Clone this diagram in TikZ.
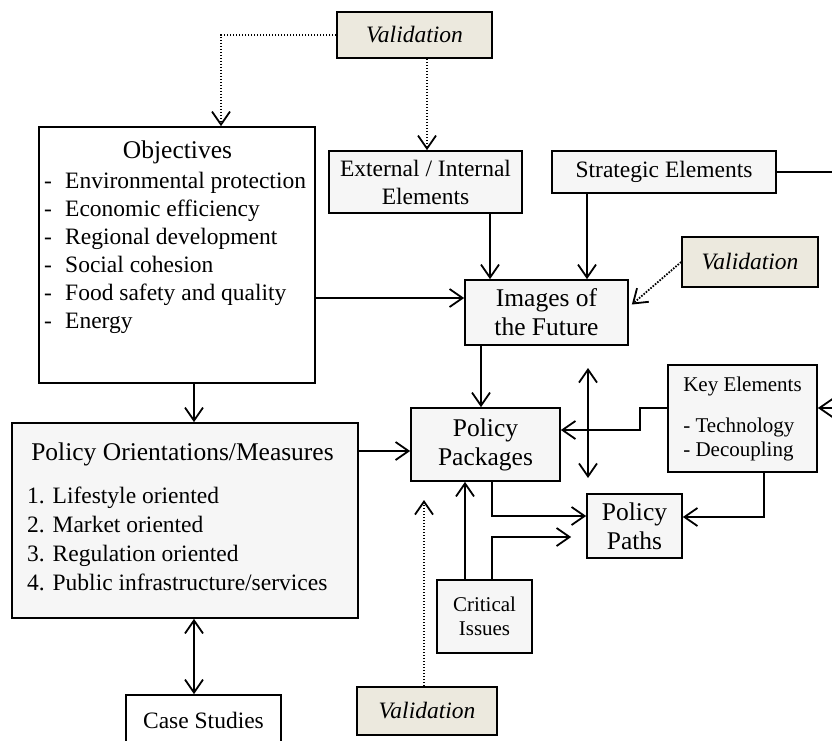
\documentclass[tikz,border=0pt]{standalone}
\usepackage{fontspec}
\setmainfont{Liberation Serif}
\usetikzlibrary{positioning, arrows.meta, calc}

\definecolor{boxgray}{HTML}{F6F6F6}
\definecolor{valbeige}{HTML}{ECE9DE}

\begin{document}
\begin{tikzpicture}[
x=1pt, y=-1pt,
    box/.style={draw, rectangle, line width=1.7pt, fill=boxgray, align=center, inner sep=0pt, font=\fontsize{23.5}{28}\selectfont},
    bigbox/.style={box, font=\fontsize{25.5}{29}\selectfont},
    smallbox/.style={box, font=\fontsize{21}{24}\selectfont},
    valid/.style={box, fill=valbeige, font=\fontsize{23.5}{28}\selectfont\itshape},
    txt/.style={inner sep=0pt, align=left, font=\fontsize{23.5}{28}\selectfont},
    title/.style={inner sep=0pt, font=\fontsize{25.5}{29}\selectfont},
    line/.style={draw, line width=1.8pt},
    arr/.style={line, -{Straight Barb[length=13pt,width=18pt]}},
    dblarr/.style={line, {Straight Barb[length=13pt,width=18pt]}-{Straight Barb[length=13pt,width=18pt]}},
    dotarr/.style={arr, dash pattern=on 1.6pt off 1.4pt}
]
    \useasboundingbox (0,0) rectangle (832,740);

    % --- Validation boxes ---
    \node[valid, minimum width=155pt, minimum height=46pt] (valtop) at (414.5,35) {Validation};
    \node[valid, minimum width=136pt, minimum height=50pt] (valright) at (750,262) {Validation};
    \node[valid, minimum width=140pt, minimum height=48pt] (valbot) at (427,711) {Validation};

    % --- Objectives ---
    \node[box, fill=white, minimum width=276pt, minimum height=256pt] (obj) at (177,255) {};
    \node[title, anchor=base] (objtitle) at (177.5,158) {Objectives};
    \node[txt, anchor=north west] (objlist) at (44,172) {%
        \makebox[21pt][l]{-}Environmental protection\\
        \makebox[21pt][l]{-}Economic efficiency\\
        \makebox[21pt][l]{-}Regional development\\
        \makebox[21pt][l]{-}Social cohesion\\
        \makebox[21pt][l]{-}Food safety and quality\\
        \makebox[21pt][l]{-}Energy};

    % --- Elements feeding the images ---
    \node[box, minimum width=193pt, minimum height=62pt] (ext) at (425.5,182) {External / Internal\\Elements};
    \node[box, minimum width=224pt, minimum height=42pt] (strat) at (664,172) {Strategic Elements};
    \node[bigbox, minimum width=163pt, minimum height=65pt] (img) at (546.5,312.5) {Images of\\the Future};

    % --- Policy side ---
    \node[smallbox, align=left, minimum width=149pt, minimum height=107pt] (key) at (742.5,418.5) {Key Elements\\[17pt]- Technology\\- Decoupling};
    \node[bigbox, minimum width=149pt, minimum height=73pt] (pack) at (485.5,444.5) {Policy\\Packages};
    \node[bigbox, minimum width=95pt, minimum height=64pt] (paths) at (634.5,526) {Policy\\Paths};
    \node[smallbox, minimum width=95pt, minimum height=73pt] (crit) at (484.5,616.5) {Critical\\Issues};

    % --- Policy Orientations/Measures ---
    \node[box, minimum width=346pt, minimum height=195pt] (po) at (185,520.5) {};
    \node[title, anchor=base] (potitle) at (182.5,460) {Policy Orientations/Measures};
    \node[txt, anchor=north west, font=\fontsize{23.5}{29.2}\selectfont] (polist) at (27,486.5) {%
        1. Lifestyle oriented\\
        2. Market oriented\\
        3. Regulation oriented\\
        4. Public infrastructure/services};

    \node[box, fill=white, minimum width=155pt, minimum height=50pt] (case) at (203.5,720) {Case Studies};

    % --- free ends ---
    \coordinate (stratout) at (834,172);
    \coordinate (keyin) at (834,408);
    \coordinate (dbltop) at (588,368);
    \coordinate (dblbot) at (588,478);
    \coordinate (valbotend) at (424,500);

    % --- Validation connections ---
    \draw[dotarr] (valtop.west) -| ([xshift=44pt]obj.north);
    \draw[dotarr] ([xshift=12.5pt]valtop.south) -- ([xshift=12.5pt]valtop.south |- ext.north);
    \draw[dotarr] (valright.west) -- ([xshift=3pt,yshift=8pt]img.east);
    \draw[dotarr] ([xshift=-3pt]valbot.north) -- (valbotend);

    % --- Connections to Images of the Future ---
    \draw[arr] ([xshift=64.5pt]ext.south) -- ([xshift=64.5pt]ext.south |- img.north);
    \draw[arr] ([xshift=-77pt]strat.south) -- ([xshift=-77pt]strat.south |- img.north);
    \draw[line] (strat.east) -- (stratout);
    \draw[arr] ([yshift=-43pt]obj.east) -- ([yshift=-43pt]obj.east -| img.west);

    % --- Connections to Policy Packages and Paths ---
    \draw[arr] ([xshift=-65.5pt]img.south) -- ([xshift=-65.5pt]img.south |- pack.north);
    \draw[dblarr] (dbltop) -- (dblbot);
    \draw[arr] ([yshift=10.5pt]key.west) -- ++(-27pt,0pt) |- ([yshift=14.5pt]pack.east);
    \draw[arr] (keyin) -- ([yshift=10.5pt]key.east);
    \draw[arr] ([xshift=21.5pt]key.south) |- ([yshift=9pt]paths.east);
    \draw[arr] ([xshift=6.5pt]pack.south) |- ([yshift=10pt]paths.west);
    \draw[arr] ([xshift=-19.5pt]crit.north) -- ([xshift=-19.5pt]crit.north |- pack.south);
    \draw[arr] ([xshift=7.5pt]crit.north) |- ([xshift=-15pt,yshift=-11pt]paths.west);

    % --- Objectives and Policy Orientations ---
    \draw[arr] ([xshift=17pt]obj.south) -- ([xshift=17pt]obj.south |- po.north);
    \draw[arr] ([yshift=69.5pt]po.east) -- ([yshift=69.5pt]po.east -| pack.west);
    \draw[dblarr] ([xshift=9pt]po.south) -- ([xshift=9pt]po.south |- case.north);

\end{tikzpicture}
\end{document}
